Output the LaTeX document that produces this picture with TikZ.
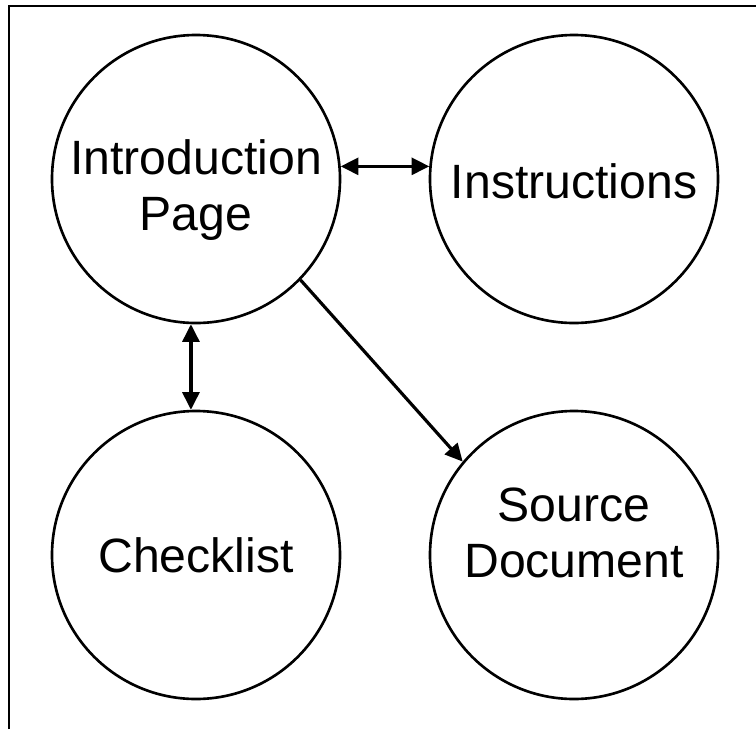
\documentclass[tikz,border=0pt]{standalone}
\usepackage{fontspec}
\setmainfont{Liberation Sans}
\usetikzlibrary{arrows.meta}

\begin{document}
\begin{tikzpicture}
\tikzset{
	page/.style={draw,
		shape=circle,
		line width=0.75pt,
		minimum size=2.88cm,
		inner sep=0pt
	},
	pagetext/.style={align=center,
		inner sep=0pt,
		font=\fontsize{13.7}{15.8}\selectfont
	},
	link/.style={line width=0.9pt, -{Triangle[length=5pt,width=4.8pt]}},
	duallink/.style={line width=0.9pt, {Triangle[length=5pt,width=4.8pt]}-{Triangle[length=5pt,width=4.8pt]}}
}
\useasboundingbox (0,0) rectangle (7.56,7.29);

\draw[line width=0.8pt] (0.09,0) -- (0.09,7.23) -- (7.56,7.23);

\node[page] (Intro) at (1.96,5.50) {};
\node[page] (Instr) at (5.74,5.50) {};
\node[page] (Check) at (1.96,1.74) {};
\node[page] (Source) at (5.74,1.74) {};

\node[pagetext] (IntroLBL) at ([yshift=-0.11cm]Intro.center) {Introduction\\Page};
\node[pagetext] (InstrLBL) at ([yshift=-0.02cm]Instr.center) {Instructions};
\node[pagetext] (CheckLBL) at (Check.center) {Checklist};
\node[pagetext] (SourceLBL) at ([yshift=0.22cm]Source.center) {Source\\Document};

\draw[duallink] (Intro.5) -- (Instr.175);
\draw[duallink] (Intro.-92) -- (Check.92);
\draw[link] (Intro.-44) -- (Source.140);
\end{tikzpicture}
\end{document}
